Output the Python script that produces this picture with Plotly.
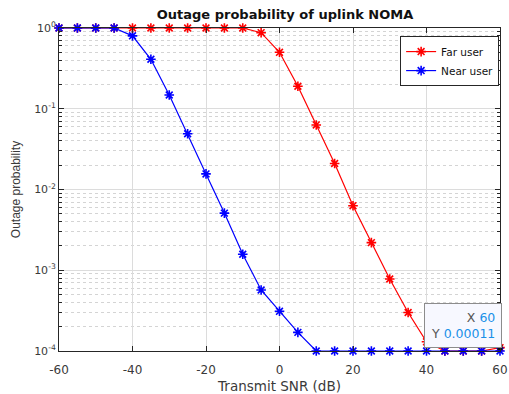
import math
import plotly.graph_objects as go

# Transmit SNR grid (dB)
snr_db = [-60, -55, -50, -45, -40, -35, -30, -25, -20, -15, -10, -5, 0,
          5, 10, 15, 20, 25, 30, 35, 40, 45, 50, 55, 60]

# Outage probability of the far user
far_user = [1, 1, 1, 1, 1, 1, 1, 1, 1, 1, 1, 0.875, 0.50,
            0.19, 0.063, 0.021, 0.0063, 0.0022, 0.00078, 0.00030, 0.00013,
            0.0001, 0.0001, 0.0001, 0.00011]

# Outage probability of the near user
near_user = [1, 1, 1, 1, 0.80, 0.41, 0.148, 0.049, 0.0156, 0.0051, 0.00158,
             0.00057, 0.00031, 0.00017, 0.0001, 0.0001, 0.0001, 0.0001,
             0.0001, 0.0001, 0.0001, 0.0001, 0.0001, 0.0001, 0.0001]

x_ticks = [-60, -40, -20, 0, 20, 40, 60]
y_exponents = [0, -1, -2, -3, -4]

WIDE = "DejaVu Sans, Verdana, sans-serif"
NARROW = "Liberation Sans, Arial, sans-serif"

fig = go.Figure()

fig.add_trace(go.Scatter(
    x=snr_db, y=far_user, name="Far user", mode="lines+markers",
    line=dict(color="#ff0000", width=1.2),
    marker=dict(symbol="asterisk-open", size=8, color="#ff0000",
                line=dict(color="#ff0000", width=1.6)),
    cliponaxis=False,
))
fig.add_trace(go.Scatter(
    x=snr_db, y=near_user, name="Near user", mode="lines+markers",
    line=dict(color="#0000ff", width=1.2),
    marker=dict(symbol="asterisk-open", size=8, color="#0000ff",
                line=dict(color="#0000ff", width=1.6)),
    cliponaxis=False,
))

# Data tip on the last far-user point
tip_x, tip_y = snr_db[-1], far_user[-1]
fig.add_trace(go.Scatter(
    x=[tip_x], y=[tip_y], mode="markers", showlegend=False,
    marker=dict(symbol="square", size=5, color="#111111"),
    cliponaxis=False, hoverinfo="skip",
))
fig.add_annotation(
    x=tip_x, y=math.log10(tip_y), xref="x", yref="y",
    xanchor="right", yanchor="bottom", xshift=2, yshift=0,
    showarrow=False, align="right",
    text=(f"<span style='color:#555555'>X</span> "
          f"<span style='color:#1a90e8'>{tip_x}</span><br>"
          f"<span style='color:#555555'>Y</span> "
          f"<span style='color:#1a90e8'>{tip_y:.5f}</span>"),
    font=dict(family=WIDE, size=12.5),
    bgcolor="#f7f8ff", bordercolor="#8c8c8c", borderwidth=1, borderpad=6,
)

axis_common = dict(
    showline=True, linecolor="#262626", linewidth=1, mirror="ticks",
    ticks="inside", ticklen=5, tickcolor="#262626",
    showgrid=True, gridcolor="#dcdcdc", gridwidth=1,
    tickfont=dict(family=WIDE, size=12, color="#3a3a3a"),
    zeroline=False, automargin=False,
)

fig.update_xaxes(
    range=[-60, 60], tickvals=x_ticks, ticktext=[str(v) for v in x_ticks],
    ticklabelstandoff=8,
    title=dict(text="Transmit SNR (dB)", standoff=18,
               font=dict(family=WIDE, size=13.5, color="#3a3a3a")),
    **axis_common,
)
fig.update_yaxes(
    type="log", range=[-4, 0],
    tickvals=[10 ** e for e in y_exponents],
    ticktext=[f"10<sup>{e}</sup>" for e in y_exponents],
    title=dict(text="Outage probability", standoff=10,
               font=dict(family=NARROW, size=12, color="#3a3a3a")),
    minor=dict(ticks="inside", ticklen=3, tickcolor="#262626", dtick="D1",
               showgrid=True, gridcolor="#d4d4d4", griddash="dot"),
    **axis_common,
)
fig.update_yaxes(tickfont=dict(family=WIDE, size=11, color="#3a3a3a"))

fig.update_layout(
    width=509, height=394,
    margin=dict(l=59, r=9, t=28, b=43),
    paper_bgcolor="white", plot_bgcolor="white",
    font=dict(family=WIDE, color="#222222"),
    title=dict(text="<b>Outage probability of uplink NOMA</b>",
               x=285 / 509, xanchor="center",
               y=1 - 14 / 394, yanchor="middle",
               font=dict(family=WIDE, size=13, color="#111111")),
    legend=dict(x=0.998, y=0.975, xanchor="right", yanchor="top",
                bgcolor="white", bordercolor="#262626", borderwidth=1,
                font=dict(family=WIDE, size=10.5, color="#111111"),
                tracegroupgap=0, itemwidth=30),
    showlegend=True,
)

fig.write_html("out.html")
